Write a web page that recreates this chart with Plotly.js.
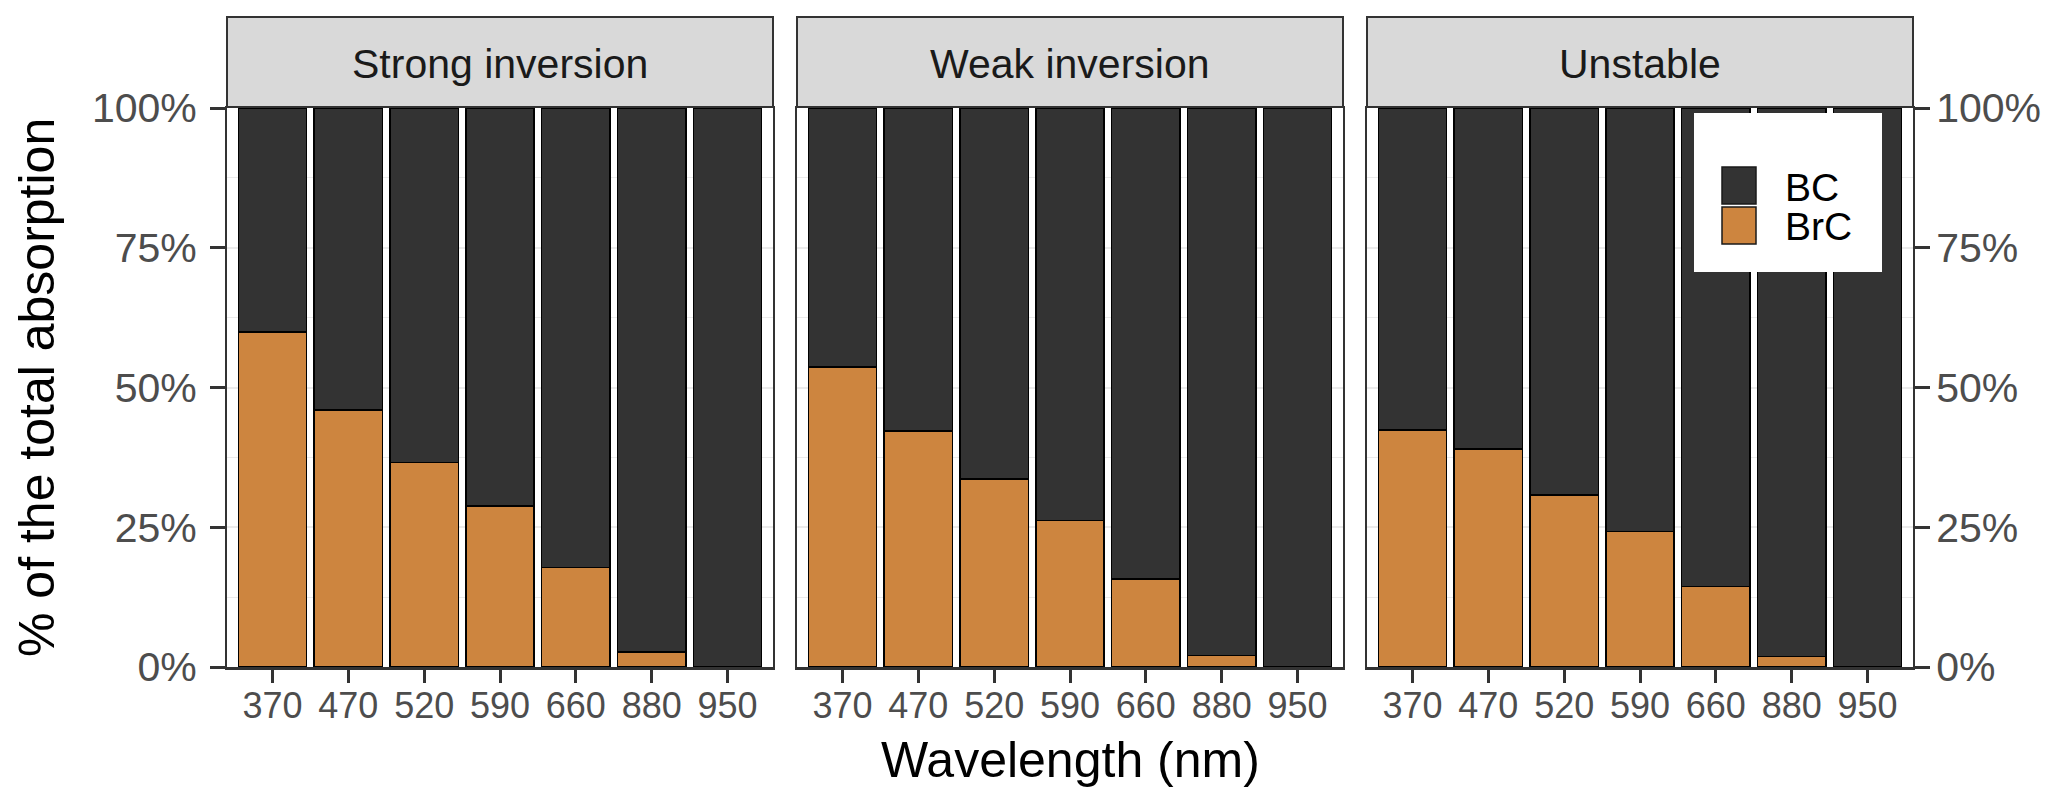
<!DOCTYPE html>
<html>
<head>
<meta charset="utf-8">
<script src="https://cdn.plot.ly/plotly-3.0.1.min.js"></script>
<style>
  html, body { margin: 0; padding: 0; background: #ffffff; }
  #chart { width: 2067px; height: 807px; }
</style>
</head>
<body>
<div id="chart"></div>
<script>
// ---- Data ----
const wavelengths = ['370', '470', '520', '590', '660', '880', '950'];
const panels = ['Strong inversion', 'Weak inversion', 'Unstable'];

const brcStrong   = [59.9, 46.0, 36.6, 28.8, 17.8, 2.7, 0];
const bcStrong    = [40.1, 54.0, 63.4, 71.2, 82.2, 97.3, 100];
const brcWeak     = [53.7, 42.2, 33.6, 26.2, 15.7, 2.1, 0];
const bcWeak      = [46.3, 57.8, 66.4, 73.8, 84.3, 97.9, 100];
const brcUnstable = [42.4, 39.0, 30.8, 24.2, 14.4, 1.9, 0];
const bcUnstable  = [57.6, 61.0, 69.2, 75.8, 85.6, 98.1, 100];

const yTickVals = [0, 25, 50, 75, 100];
const yTickText = ['0%', '25%', '50%', '75%', '100%'];
const seriesNames = ['BC', 'BrC'];

// ---- Styling ----
const W = 2067, H = 807;
const FONT = 'Liberation Sans, Arial, Helvetica, sans-serif';
const COL_BC = '#333333';
const COL_BRC = '#CD853F';
const px = x => x / W;
const py = y => 1 - y / H;

const panelX = [[227, 773], [797, 1343], [1367, 1913]];
const plotTop = 108, plotBottom = 667;
const stripTop = 17, stripBottom = 107;

const brcData = [brcStrong, brcWeak, brcUnstable];
const bcData = [bcStrong, bcWeak, bcUnstable];

const traces = [];
for (let i = 0; i < 3; i++) {
  const xa = i === 0 ? 'x' : 'x' + (i + 1);
  const ya = i === 0 ? 'y' : 'y' + (i + 1);
  traces.push({
    type: 'bar', name: seriesNames[1], x: wavelengths, y: brcData[i],
    xaxis: xa, yaxis: ya, showlegend: false,
    marker: { color: COL_BRC, line: { color: '#000000', width: 1.5 } },
    hoverinfo: 'skip'
  });
  traces.push({
    type: 'bar', name: seriesNames[0], x: wavelengths, y: bcData[i],
    xaxis: xa, yaxis: ya, showlegend: false,
    marker: { color: COL_BC, line: { color: '#000000', width: 1.5 } },
    hoverinfo: 'skip'
  });
}

function xAxis(i) {
  return {
    domain: [px(panelX[i][0]), px(panelX[i][1])],
    anchor: i === 0 ? 'y' : 'y' + (i + 1),
    type: 'category',
    range: [-0.6, 6.6],
    showgrid: false,
    zeroline: false,
    showline: true, linecolor: '#333333', linewidth: 2.5, mirror: true,
    ticks: 'outside', ticklen: 13, tickwidth: 3, tickcolor: '#333333',
    tickfont: { family: FONT, size: 36, color: '#4D4D4D' },
    ticklabelstandoff: -8,
    fixedrange: true
  };
}
function yAxis(i) {
  const ax = {
    domain: [py(plotBottom), py(plotTop)],
    anchor: i === 0 ? 'x' : 'x' + (i + 1),
    range: [0, 100],
    tickmode: 'array',
    tickvals: yTickVals,
    ticktext: yTickText,
    showgrid: true, gridcolor: '#EBEBEB', gridwidth: 2,
    minor: { tickvals: [12.5, 37.5, 62.5, 87.5], showgrid: true, gridcolor: '#EBEBEB', gridwidth: 1, ticks: '' },
    zeroline: false,
    showline: true, linecolor: '#333333', linewidth: 2, mirror: true,
    tickfont: { family: FONT, size: 41, color: '#4D4D4D' },
    fixedrange: true
  };
  if (i === 0) {
    Object.assign(ax, { side: 'left', ticks: 'outside', ticklen: 15, tickwidth: 3, tickcolor: '#333333', showticklabels: true, ticklabelstandoff: 5 });
  } else if (i === 2) {
    Object.assign(ax, { side: 'right', ticks: 'outside', ticklen: 15, tickwidth: 3, tickcolor: '#333333', showticklabels: true, ticklabelstandoff: -2 });
  } else {
    Object.assign(ax, { ticks: '', showticklabels: false });
  }
  return ax;
}

const shapes = [];
const annotations = [];
for (let i = 0; i < 3; i++) {
  shapes.push({
    type: 'rect', xref: 'paper', yref: 'paper', layer: 'above',
    x0: px(panelX[i][0]), x1: px(panelX[i][1]), y0: py(stripBottom), y1: py(stripTop),
    fillcolor: '#D9D9D9', line: { color: '#333333', width: 2 }
  });
  annotations.push({
    xref: 'paper', yref: 'paper', showarrow: false,
    x: px((panelX[i][0] + panelX[i][1]) / 2), y: py((stripTop + stripBottom) / 2 + 2),
    xanchor: 'center', yanchor: 'middle',
    text: panels[i], font: { family: FONT, size: 41, color: '#1A1A1A' }
  });
}

// legend (drawn inside the third panel)
shapes.push({
  type: 'rect', xref: 'paper', yref: 'paper', layer: 'above',
  x0: px(1694), x1: px(1882), y0: py(272), y1: py(113),
  fillcolor: '#FFFFFF', line: { width: 0 }
});
shapes.push({
  type: 'rect', xref: 'paper', yref: 'paper', layer: 'above',
  x0: px(1722), x1: px(1756), y0: py(204), y1: py(167),
  fillcolor: COL_BC, line: { color: '#1A1A1A', width: 1.5 }
});
shapes.push({
  type: 'rect', xref: 'paper', yref: 'paper', layer: 'above',
  x0: px(1722), x1: px(1756), y0: py(244), y1: py(207),
  fillcolor: COL_BRC, line: { color: '#1A1A1A', width: 1.5 }
});
annotations.push({
  xref: 'paper', yref: 'paper', showarrow: false, x: px(1783), y: py(187),
  xanchor: 'left', yanchor: 'middle', text: seriesNames[0],
  font: { family: FONT, size: 39, color: '#000000' }
});
annotations.push({
  xref: 'paper', yref: 'paper', showarrow: false, x: px(1783), y: py(227),
  xanchor: 'left', yanchor: 'middle', text: seriesNames[1],
  font: { family: FONT, size: 39, color: '#000000' }
});

// axis titles
annotations.push({
  xref: 'paper', yref: 'paper', showarrow: false,
  x: px((panelX[1][0] + panelX[1][1]) / 2), y: py(760),
  xanchor: 'center', yanchor: 'middle', text: 'Wavelength (nm)',
  font: { family: FONT, size: 50, color: '#000000' }
});
annotations.push({
  xref: 'paper', yref: 'paper', showarrow: false,
  x: px(37), y: py(388),
  xanchor: 'center', yanchor: 'middle', textangle: -90, text: '% of the total absorption',
  font: { family: FONT, size: 50, color: '#000000' }
});

const layout = {
  width: W, height: H,
  margin: { l: 0, r: 0, t: 0, b: 0 },
  paper_bgcolor: '#FFFFFF', plot_bgcolor: '#FFFFFF',
  barmode: 'stack', bargap: 0.1,
  showlegend: false,
  font: { family: FONT },
  xaxis: xAxis(0), xaxis2: xAxis(1), xaxis3: xAxis(2),
  yaxis: yAxis(0), yaxis2: yAxis(1), yaxis3: yAxis(2),
  shapes: shapes,
  annotations: annotations
};

Plotly.newPlot('chart', traces, layout, { displayModeBar: false, staticPlot: true });
</script>
</body>
</html>
